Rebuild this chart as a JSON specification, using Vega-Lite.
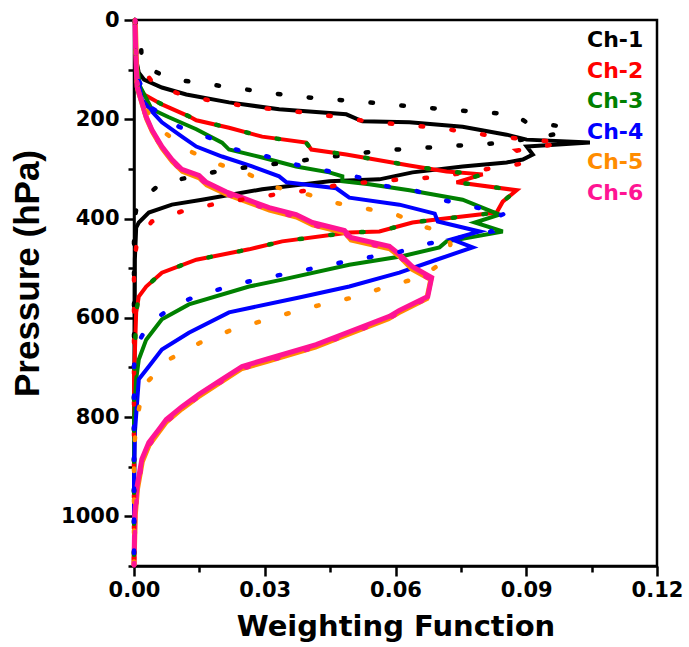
{
"$schema": "https://vega.github.io/schema/vega-lite/v6.json",
"width": 523, "height": 546,
"autosize": {"type": "none"},
"padding": {"left": 134, "top": 20, "right": 32, "bottom": 81},
"background": "white",
"config": {
  "view": {"stroke": "black", "strokeWidth": 2.5},
  "axis": {"grid": false, "domainColor": "black", "domainWidth": 2.5, "tickColor": "black", "tickWidth": 2.5,
    "labelColor": "black", "labelFont": "DejaVu Sans", "labelFontWeight": "bold", "labelFontSize": 21,
    "labelFlush": false, "labelOverlap": false, "labelBound": false,
    "titleColor": "black", "titleFontWeight": "bold"}
},
"datasets": {"profiles": [
{"c":"Ch-1","k":"s","p":0,"w":0.0002},{"c":"Ch-1","k":"s","p":80,"w":0.0005},{"c":"Ch-1","k":"s","p":106,"w":0.0011},{"c":"Ch-1","k":"s","p":120,"w":0.0023},{"c":"Ch-1","k":"s","p":136,"w":0.0064},{"c":"Ch-1","k":"s","p":150,"w":0.012},{"c":"Ch-1","k":"s","p":166,"w":0.0218},{"c":"Ch-1","k":"s","p":180,"w":0.0333},{"c":"Ch-1","k":"s","p":190,"w":0.0487},{"c":"Ch-1","k":"s","p":204,"w":0.0524},{"c":"Ch-1","k":"s","p":206,"w":0.0632},{"c":"Ch-1","k":"s","p":215,"w":0.0754},{"c":"Ch-1","k":"s","p":231,"w":0.0855},{"c":"Ch-1","k":"s","p":241,"w":0.0901},{"c":"Ch-1","k":"s","p":247,"w":0.1046},{"c":"Ch-1","k":"s","p":255,"w":0.0901},{"c":"Ch-1","k":"s","p":271,"w":0.0915},{"c":"Ch-1","k":"s","p":281,"w":0.0892},{"c":"Ch-1","k":"s","p":287,"w":0.0855},{"c":"Ch-1","k":"s","p":295,"w":0.0754},{"c":"Ch-1","k":"s","p":307,"w":0.0639},{"c":"Ch-1","k":"s","p":321,"w":0.0563},{"c":"Ch-1","k":"s","p":325,"w":0.0448},{"c":"Ch-1","k":"s","p":341,"w":0.0294},{"c":"Ch-1","k":"s","p":362,"w":0.0156},{"c":"Ch-1","k":"s","p":372,"w":0.0087},{"c":"Ch-1","k":"s","p":388,"w":0.0034},{"c":"Ch-1","k":"s","p":408,"w":0.0011},{"c":"Ch-1","k":"s","p":418,"w":0.0005},{"c":"Ch-1","k":"s","p":482,"w":0.0002},{"c":"Ch-1","k":"s","p":1100,"w":0},
{"c":"Ch-1","k":"d","p":0,"w":0.0002},{"c":"Ch-1","k":"d","p":45,"w":0.0016},{"c":"Ch-1","k":"d","p":90,"w":0.0018},{"c":"Ch-1","k":"d","p":118,"w":0.008},{"c":"Ch-1","k":"d","p":136,"w":0.0225},{"c":"Ch-1","k":"d","p":154,"w":0.0372},{"c":"Ch-1","k":"d","p":164,"w":0.0513},{"c":"Ch-1","k":"d","p":176,"w":0.066},{"c":"Ch-1","k":"d","p":186,"w":0.08},{"c":"Ch-1","k":"d","p":190,"w":0.0874},{"c":"Ch-1","k":"d","p":206,"w":0.09},{"c":"Ch-1","k":"d","p":213,"w":0.097},{"c":"Ch-1","k":"d","p":227,"w":0.0995},{"c":"Ch-1","k":"d","p":235,"w":0.0926},{"c":"Ch-1","k":"d","p":247,"w":0.0855},{"c":"Ch-1","k":"d","p":255,"w":0.0708},{"c":"Ch-1","k":"d","p":263,"w":0.0568},{"c":"Ch-1","k":"d","p":271,"w":0.0494},{"c":"Ch-1","k":"d","p":287,"w":0.0349},{"c":"Ch-1","k":"d","p":303,"w":0.0202},{"c":"Ch-1","k":"d","p":329,"w":0.0062},{"c":"Ch-1","k":"d","p":370,"w":0.0007},{"c":"Ch-1","k":"d","p":412,"w":0},{"c":"Ch-1","k":"d","p":1100,"w":0},
{"c":"Ch-2","k":"s","p":0,"w":0.0002},{"c":"Ch-2","k":"s","p":80,"w":0.0005},{"c":"Ch-2","k":"s","p":134,"w":0.0011},{"c":"Ch-2","k":"s","p":150,"w":0.0023},{"c":"Ch-2","k":"s","p":170,"w":0.0064},{"c":"Ch-2","k":"s","p":194,"w":0.0126},{"c":"Ch-2","k":"s","p":202,"w":0.0143},{"c":"Ch-2","k":"s","p":217,"w":0.0218},{"c":"Ch-2","k":"s","p":235,"w":0.0294},{"c":"Ch-2","k":"s","p":247,"w":0.0395},{"c":"Ch-2","k":"s","p":261,"w":0.0407},{"c":"Ch-2","k":"s","p":271,"w":0.0487},{"c":"Ch-2","k":"s","p":293,"w":0.0632},{"c":"Ch-2","k":"s","p":305,"w":0.0717},{"c":"Ch-2","k":"s","p":311,"w":0.08},{"c":"Ch-2","k":"s","p":327,"w":0.074},{"c":"Ch-2","k":"s","p":343,"w":0.0878},{"c":"Ch-2","k":"s","p":366,"w":0.0846},{"c":"Ch-2","k":"s","p":388,"w":0.0832},{"c":"Ch-2","k":"s","p":392,"w":0.0793},{"c":"Ch-2","k":"s","p":402,"w":0.0694},{"c":"Ch-2","k":"s","p":408,"w":0.0639},{"c":"Ch-2","k":"s","p":426,"w":0.0563},{"c":"Ch-2","k":"s","p":428,"w":0.0494},{"c":"Ch-2","k":"s","p":446,"w":0.034},{"c":"Ch-2","k":"s","p":462,"w":0.0264},{"c":"Ch-2","k":"s","p":483,"w":0.0143},{"c":"Ch-2","k":"s","p":509,"w":0.0064},{"c":"Ch-2","k":"s","p":537,"w":0.0028},{"c":"Ch-2","k":"s","p":557,"w":0.0011},{"c":"Ch-2","k":"s","p":589,"w":0.0005},{"c":"Ch-2","k":"s","p":724,"w":0},{"c":"Ch-2","k":"s","p":1100,"w":0},
{"c":"Ch-2","k":"d","p":0,"w":0.0002},{"c":"Ch-2","k":"d","p":80,"w":0.0005},{"c":"Ch-2","k":"d","p":130,"w":0.0046},{"c":"Ch-2","k":"d","p":154,"w":0.012},{"c":"Ch-2","k":"d","p":174,"w":0.026},{"c":"Ch-2","k":"d","p":188,"w":0.0407},{"c":"Ch-2","k":"d","p":206,"w":0.0552},{"c":"Ch-2","k":"d","p":217,"w":0.0694},{"c":"Ch-2","k":"d","p":235,"w":0.0834},{"c":"Ch-2","k":"d","p":241,"w":0.0913},{"c":"Ch-2","k":"d","p":247,"w":0.0982},{"c":"Ch-2","k":"d","p":255,"w":0.0936},{"c":"Ch-2","k":"d","p":263,"w":0.0878},{"c":"Ch-2","k":"d","p":287,"w":0.0908},{"c":"Ch-2","k":"d","p":297,"w":0.0834},{"c":"Ch-2","k":"d","p":317,"w":0.069},{"c":"Ch-2","k":"d","p":321,"w":0.0616},{"c":"Ch-2","k":"d","p":331,"w":0.0478},{"c":"Ch-2","k":"d","p":343,"w":0.0402},{"c":"Ch-2","k":"d","p":351,"w":0.0329},{"c":"Ch-2","k":"d","p":370,"w":0.0189},{"c":"Ch-2","k":"d","p":384,"w":0.0115},{"c":"Ch-2","k":"d","p":406,"w":0.0041},{"c":"Ch-2","k":"d","p":446,"w":0.0007},{"c":"Ch-2","k":"d","p":489,"w":0},{"c":"Ch-2","k":"d","p":1100,"w":0},
{"c":"Ch-3","k":"s","p":0,"w":0.0002},{"c":"Ch-3","k":"s","p":80,"w":0.0005},{"c":"Ch-3","k":"s","p":134,"w":0.0014},{"c":"Ch-3","k":"s","p":180,"w":0.0041},{"c":"Ch-3","k":"s","p":196,"w":0.008},{"c":"Ch-3","k":"s","p":220,"w":0.0143},{"c":"Ch-3","k":"s","p":247,"w":0.0202},{"c":"Ch-3","k":"s","p":261,"w":0.0218},{"c":"Ch-3","k":"s","p":277,"w":0.0294},{"c":"Ch-3","k":"s","p":295,"w":0.0372},{"c":"Ch-3","k":"s","p":307,"w":0.0448},{"c":"Ch-3","k":"s","p":315,"w":0.0478},{"c":"Ch-3","k":"s","p":325,"w":0.0478},{"c":"Ch-3","k":"s","p":331,"w":0.054},{"c":"Ch-3","k":"s","p":343,"w":0.0632},{"c":"Ch-3","k":"s","p":362,"w":0.0754},{"c":"Ch-3","k":"s","p":384,"w":0.0816},{"c":"Ch-3","k":"s","p":392,"w":0.0839},{"c":"Ch-3","k":"s","p":408,"w":0.0782},{"c":"Ch-3","k":"s","p":426,"w":0.0846},{"c":"Ch-3","k":"s","p":442,"w":0.0747},{"c":"Ch-3","k":"s","p":446,"w":0.0717},{"c":"Ch-3","k":"s","p":458,"w":0.0701},{"c":"Ch-3","k":"s","p":476,"w":0.0615},{"c":"Ch-3","k":"s","p":493,"w":0.0494},{"c":"Ch-3","k":"s","p":523,"w":0.034},{"c":"Ch-3","k":"s","p":537,"w":0.0264},{"c":"Ch-3","k":"s","p":573,"w":0.0126},{"c":"Ch-3","k":"s","p":603,"w":0.0064},{"c":"Ch-3","k":"s","p":644,"w":0.0028},{"c":"Ch-3","k":"s","p":684,"w":0.0011},{"c":"Ch-3","k":"s","p":724,"w":0.0005},{"c":"Ch-3","k":"s","p":805,"w":0},{"c":"Ch-3","k":"s","p":1100,"w":0},
{"c":"Ch-3","k":"d","p":0,"w":0.0002},{"c":"Ch-3","k":"d","p":80,"w":0.0005},{"c":"Ch-3","k":"d","p":134,"w":0.0011},{"c":"Ch-3","k":"d","p":150,"w":0.0023},{"c":"Ch-3","k":"d","p":170,"w":0.0064},{"c":"Ch-3","k":"d","p":194,"w":0.0126},{"c":"Ch-3","k":"d","p":202,"w":0.0143},{"c":"Ch-3","k":"d","p":217,"w":0.0218},{"c":"Ch-3","k":"d","p":235,"w":0.0294},{"c":"Ch-3","k":"d","p":247,"w":0.0395},{"c":"Ch-3","k":"d","p":261,"w":0.0407},{"c":"Ch-3","k":"d","p":271,"w":0.0487},{"c":"Ch-3","k":"d","p":293,"w":0.0632},{"c":"Ch-3","k":"d","p":305,"w":0.0717},{"c":"Ch-3","k":"d","p":311,"w":0.08},{"c":"Ch-3","k":"d","p":327,"w":0.074},{"c":"Ch-3","k":"d","p":343,"w":0.0878},{"c":"Ch-3","k":"d","p":366,"w":0.0846},{"c":"Ch-3","k":"d","p":388,"w":0.0832},{"c":"Ch-3","k":"d","p":392,"w":0.0793},{"c":"Ch-3","k":"d","p":402,"w":0.0694},{"c":"Ch-3","k":"d","p":408,"w":0.0639},{"c":"Ch-3","k":"d","p":426,"w":0.0563},{"c":"Ch-3","k":"d","p":428,"w":0.0494},{"c":"Ch-3","k":"d","p":446,"w":0.034},{"c":"Ch-3","k":"d","p":462,"w":0.0264},{"c":"Ch-3","k":"d","p":483,"w":0.0143},{"c":"Ch-3","k":"d","p":509,"w":0.0064},{"c":"Ch-3","k":"d","p":537,"w":0.0028},{"c":"Ch-3","k":"d","p":557,"w":0.0011},{"c":"Ch-3","k":"d","p":589,"w":0.0005},{"c":"Ch-3","k":"d","p":724,"w":0},{"c":"Ch-3","k":"d","p":1100,"w":0},
{"c":"Ch-4","k":"s","p":0,"w":0.0002},{"c":"Ch-4","k":"s","p":100,"w":0.0005},{"c":"Ch-4","k":"s","p":160,"w":0.0018},{"c":"Ch-4","k":"s","p":184,"w":0.0041},{"c":"Ch-4","k":"s","p":206,"w":0.0064},{"c":"Ch-4","k":"s","p":235,"w":0.011},{"c":"Ch-4","k":"s","p":255,"w":0.0143},{"c":"Ch-4","k":"s","p":275,"w":0.0202},{"c":"Ch-4","k":"s","p":295,"w":0.0271},{"c":"Ch-4","k":"s","p":315,"w":0.0333},{"c":"Ch-4","k":"s","p":327,"w":0.035},{"c":"Ch-4","k":"s","p":339,"w":0.0464},{"c":"Ch-4","k":"s","p":358,"w":0.0494},{"c":"Ch-4","k":"s","p":372,"w":0.0609},{"c":"Ch-4","k":"s","p":390,"w":0.069},{"c":"Ch-4","k":"s","p":406,"w":0.0697},{"c":"Ch-4","k":"s","p":426,"w":0.0793},{"c":"Ch-4","k":"s","p":442,"w":0.0729},{"c":"Ch-4","k":"s","p":458,"w":0.0777},{"c":"Ch-4","k":"s","p":483,"w":0.0694},{"c":"Ch-4","k":"s","p":509,"w":0.0609},{"c":"Ch-4","k":"s","p":537,"w":0.0494},{"c":"Ch-4","k":"s","p":559,"w":0.0379},{"c":"Ch-4","k":"s","p":589,"w":0.0218},{"c":"Ch-4","k":"s","p":630,"w":0.0126},{"c":"Ch-4","k":"s","p":664,"w":0.0064},{"c":"Ch-4","k":"s","p":698,"w":0.0034},{"c":"Ch-4","k":"s","p":724,"w":0.0011},{"c":"Ch-4","k":"s","p":831,"w":0.0002},{"c":"Ch-4","k":"s","p":926,"w":0},{"c":"Ch-4","k":"s","p":1100,"w":0},
{"c":"Ch-4","k":"d","p":0,"w":0.0002},{"c":"Ch-4","k":"d","p":110,"w":0.0005},{"c":"Ch-4","k":"d","p":176,"w":0.0039},{"c":"Ch-4","k":"d","p":215,"w":0.0103},{"c":"Ch-4","k":"d","p":237,"w":0.0172},{"c":"Ch-4","k":"d","p":261,"w":0.0234},{"c":"Ch-4","k":"d","p":275,"w":0.0306},{"c":"Ch-4","k":"d","p":293,"w":0.0379},{"c":"Ch-4","k":"d","p":305,"w":0.0448},{"c":"Ch-4","k":"d","p":317,"w":0.0517},{"c":"Ch-4","k":"d","p":333,"w":0.0563},{"c":"Ch-4","k":"d","p":341,"w":0.0637},{"c":"Ch-4","k":"d","p":362,"w":0.0706},{"c":"Ch-4","k":"d","p":376,"w":0.0777},{"c":"Ch-4","k":"d","p":390,"w":0.0851},{"c":"Ch-4","k":"d","p":406,"w":0.0805},{"c":"Ch-4","k":"d","p":426,"w":0.0821},{"c":"Ch-4","k":"d","p":450,"w":0.0678},{"c":"Ch-4","k":"d","p":468,"w":0.0605},{"c":"Ch-4","k":"d","p":479,"w":0.0533},{"c":"Ch-4","k":"d","p":491,"w":0.046},{"c":"Ch-4","k":"d","p":505,"w":0.0386},{"c":"Ch-4","k":"d","p":517,"w":0.0315},{"c":"Ch-4","k":"d","p":531,"w":0.0241},{"c":"Ch-4","k":"d","p":549,"w":0.017},{"c":"Ch-4","k":"d","p":571,"w":0.0099},{"c":"Ch-4","k":"d","p":612,"w":0.0034},{"c":"Ch-4","k":"d","p":654,"w":0.0007},{"c":"Ch-4","k":"d","p":698,"w":0},{"c":"Ch-4","k":"d","p":1100,"w":0},
{"c":"Ch-5","k":"s","p":0,"w":0.0003},{"c":"Ch-5","k":"s","p":98,"w":0.0006},{"c":"Ch-5","k":"s","p":138,"w":0.0008},{"c":"Ch-5","k":"s","p":164,"w":0.0017},{"c":"Ch-5","k":"s","p":199,"w":0.0029},{"c":"Ch-5","k":"s","p":225,"w":0.0042},{"c":"Ch-5","k":"s","p":259,"w":0.0065},{"c":"Ch-5","k":"s","p":285,"w":0.0088},{"c":"Ch-5","k":"s","p":305,"w":0.0111},{"c":"Ch-5","k":"s","p":318,"w":0.015},{"c":"Ch-5","k":"s","p":332,"w":0.0167},{"c":"Ch-5","k":"s","p":351,"w":0.0212},{"c":"Ch-5","k":"s","p":363,"w":0.0249},{"c":"Ch-5","k":"s","p":383,"w":0.0311},{"c":"Ch-5","k":"s","p":397,"w":0.0373},{"c":"Ch-5","k":"s","p":413,"w":0.041},{"c":"Ch-5","k":"s","p":429,"w":0.0484},{"c":"Ch-5","k":"s","p":443,"w":0.0498},{"c":"Ch-5","k":"s","p":461,"w":0.0587},{"c":"Ch-5","k":"s","p":477,"w":0.061},{"c":"Ch-5","k":"s","p":502,"w":0.0638},{"c":"Ch-5","k":"s","p":523,"w":0.0681},{"c":"Ch-5","k":"s","p":561,"w":0.0672},{"c":"Ch-5","k":"s","p":590,"w":0.0607},{"c":"Ch-5","k":"s","p":602,"w":0.0584},{"c":"Ch-5","k":"s","p":633,"w":0.0492},{"c":"Ch-5","k":"s","p":659,"w":0.0416},{"c":"Ch-5","k":"s","p":687,"w":0.0308},{"c":"Ch-5","k":"s","p":703,"w":0.0246},{"c":"Ch-5","k":"s","p":729,"w":0.02},{"c":"Ch-5","k":"s","p":759,"w":0.0148},{"c":"Ch-5","k":"s","p":784,"w":0.0109},{"c":"Ch-5","k":"s","p":810,"w":0.0074},{"c":"Ch-5","k":"s","p":830,"w":0.0057},{"c":"Ch-5","k":"s","p":856,"w":0.0035},{"c":"Ch-5","k":"s","p":890,"w":0.0019},{"c":"Ch-5","k":"s","p":945,"w":0.0008},{"c":"Ch-5","k":"s","p":997,"w":0.0003},{"c":"Ch-5","k":"s","p":1100,"w":0},
{"c":"Ch-5","k":"d","p":0,"w":0.0002},{"c":"Ch-5","k":"d","p":120,"w":0.0005},{"c":"Ch-5","k":"d","p":176,"w":0.0023},{"c":"Ch-5","k":"d","p":221,"w":0.0062},{"c":"Ch-5","k":"d","p":261,"w":0.012},{"c":"Ch-5","k":"d","p":289,"w":0.0189},{"c":"Ch-5","k":"d","p":309,"w":0.026},{"c":"Ch-5","k":"d","p":335,"w":0.0315},{"c":"Ch-5","k":"d","p":348,"w":0.0386},{"c":"Ch-5","k":"d","p":368,"w":0.046},{"c":"Ch-5","k":"d","p":380,"w":0.0533},{"c":"Ch-5","k":"d","p":392,"w":0.0602},{"c":"Ch-5","k":"d","p":416,"w":0.0662},{"c":"Ch-5","k":"d","p":428,"w":0.0717},{"c":"Ch-5","k":"d","p":452,"w":0.0726},{"c":"Ch-5","k":"d","p":483,"w":0.0717},{"c":"Ch-5","k":"d","p":519,"w":0.0657},{"c":"Ch-5","k":"d","p":535,"w":0.0586},{"c":"Ch-5","k":"d","p":557,"w":0.0513},{"c":"Ch-5","k":"d","p":571,"w":0.0441},{"c":"Ch-5","k":"d","p":587,"w":0.037},{"c":"Ch-5","k":"d","p":605,"w":0.0299},{"c":"Ch-5","k":"d","p":624,"w":0.0225},{"c":"Ch-5","k":"d","p":650,"w":0.0152},{"c":"Ch-5","k":"d","p":684,"w":0.008},{"c":"Ch-5","k":"d","p":726,"w":0.0034},{"c":"Ch-5","k":"d","p":771,"w":0.0014},{"c":"Ch-5","k":"d","p":815,"w":0.0005},{"c":"Ch-5","k":"d","p":865,"w":0},{"c":"Ch-5","k":"d","p":1100,"w":0},
{"c":"Ch-6","k":"s","p":0,"w":0.0002},{"c":"Ch-6","k":"s","p":94,"w":0.0005},{"c":"Ch-6","k":"s","p":134,"w":0.0007},{"c":"Ch-6","k":"s","p":160,"w":0.0016},{"c":"Ch-6","k":"s","p":195,"w":0.0028},{"c":"Ch-6","k":"s","p":221,"w":0.0041},{"c":"Ch-6","k":"s","p":255,"w":0.0064},{"c":"Ch-6","k":"s","p":281,"w":0.0087},{"c":"Ch-6","k":"s","p":301,"w":0.011},{"c":"Ch-6","k":"s","p":313,"w":0.0149},{"c":"Ch-6","k":"s","p":327,"w":0.0166},{"c":"Ch-6","k":"s","p":346,"w":0.0211},{"c":"Ch-6","k":"s","p":358,"w":0.0248},{"c":"Ch-6","k":"s","p":378,"w":0.031},{"c":"Ch-6","k":"s","p":392,"w":0.0372},{"c":"Ch-6","k":"s","p":408,"w":0.0409},{"c":"Ch-6","k":"s","p":424,"w":0.0483},{"c":"Ch-6","k":"s","p":438,"w":0.0497},{"c":"Ch-6","k":"s","p":456,"w":0.0586},{"c":"Ch-6","k":"s","p":472,"w":0.0609},{"c":"Ch-6","k":"s","p":497,"w":0.0639},{"c":"Ch-6","k":"s","p":519,"w":0.0683},{"c":"Ch-6","k":"s","p":557,"w":0.0674},{"c":"Ch-6","k":"s","p":585,"w":0.0609},{"c":"Ch-6","k":"s","p":597,"w":0.0586},{"c":"Ch-6","k":"s","p":628,"w":0.0494},{"c":"Ch-6","k":"s","p":654,"w":0.0418},{"c":"Ch-6","k":"s","p":682,"w":0.031},{"c":"Ch-6","k":"s","p":698,"w":0.0248},{"c":"Ch-6","k":"s","p":724,"w":0.0202},{"c":"Ch-6","k":"s","p":754,"w":0.0149},{"c":"Ch-6","k":"s","p":779,"w":0.011},{"c":"Ch-6","k":"s","p":805,"w":0.0074},{"c":"Ch-6","k":"s","p":825,"w":0.0057},{"c":"Ch-6","k":"s","p":851,"w":0.0034},{"c":"Ch-6","k":"s","p":885,"w":0.0018},{"c":"Ch-6","k":"s","p":940,"w":0.0007},{"c":"Ch-6","k":"s","p":992,"w":0.0002},{"c":"Ch-6","k":"s","p":1100,"w":0},
{"c":"Ch-6","k":"d","p":0,"w":0.0003},{"c":"Ch-6","k":"d","p":98,"w":0.0006},{"c":"Ch-6","k":"d","p":138,"w":0.0008},{"c":"Ch-6","k":"d","p":164,"w":0.0017},{"c":"Ch-6","k":"d","p":199,"w":0.0029},{"c":"Ch-6","k":"d","p":225,"w":0.0042},{"c":"Ch-6","k":"d","p":259,"w":0.0065},{"c":"Ch-6","k":"d","p":285,"w":0.0088},{"c":"Ch-6","k":"d","p":305,"w":0.0111},{"c":"Ch-6","k":"d","p":318,"w":0.015},{"c":"Ch-6","k":"d","p":332,"w":0.0167},{"c":"Ch-6","k":"d","p":351,"w":0.0212},{"c":"Ch-6","k":"d","p":363,"w":0.0249},{"c":"Ch-6","k":"d","p":383,"w":0.0311},{"c":"Ch-6","k":"d","p":397,"w":0.0373},{"c":"Ch-6","k":"d","p":413,"w":0.041},{"c":"Ch-6","k":"d","p":429,"w":0.0484},{"c":"Ch-6","k":"d","p":443,"w":0.0498},{"c":"Ch-6","k":"d","p":461,"w":0.0587},{"c":"Ch-6","k":"d","p":477,"w":0.061},{"c":"Ch-6","k":"d","p":502,"w":0.0638},{"c":"Ch-6","k":"d","p":523,"w":0.0681},{"c":"Ch-6","k":"d","p":561,"w":0.0672},{"c":"Ch-6","k":"d","p":590,"w":0.0607},{"c":"Ch-6","k":"d","p":602,"w":0.0584},{"c":"Ch-6","k":"d","p":633,"w":0.0492},{"c":"Ch-6","k":"d","p":659,"w":0.0416},{"c":"Ch-6","k":"d","p":687,"w":0.0308},{"c":"Ch-6","k":"d","p":703,"w":0.0246},{"c":"Ch-6","k":"d","p":729,"w":0.02},{"c":"Ch-6","k":"d","p":759,"w":0.0148},{"c":"Ch-6","k":"d","p":784,"w":0.0109},{"c":"Ch-6","k":"d","p":810,"w":0.0074},{"c":"Ch-6","k":"d","p":830,"w":0.0057},{"c":"Ch-6","k":"d","p":856,"w":0.0035},{"c":"Ch-6","k":"d","p":890,"w":0.0019},{"c":"Ch-6","k":"d","p":945,"w":0.0008},{"c":"Ch-6","k":"d","p":997,"w":0.0003},{"c":"Ch-6","k":"d","p":1100,"w":0}
]},
"data": {"name": "profiles"},
"encoding": {
  "x": {"field": "w", "type": "quantitative", "scale": {"domain": [0, 0.12], "nice": false, "zero": false},
    "axis": {"values": [0, 0.015, 0.03, 0.045, 0.06, 0.075, 0.09, 0.105, 0.12],
      "labelExpr": "round(datum.value*1000) % 30 == 0 ? format(datum.value, '.2f') : ''",
      "tickSize": {"condition": {"test": "round(datum.value*1000) % 30 == 0", "value": 10}, "value": 6},
      "labelPadding": 3,
      "title": "Weighting Function", "titleFont": "DejaVu Sans", "titleFontSize": 29, "titlePadding": 12}},
  "y": {"field": "p", "type": "quantitative", "scale": {"domain": [0, 1100], "reverse": true, "nice": false, "zero": false},
    "axis": {"values": [0, 100, 200, 300, 400, 500, 600, 700, 800, 900, 1000, 1100],
      "labelExpr": "datum.value % 200 == 0 ? format(datum.value, 'd') : ''",
      "tickSize": {"condition": {"test": "datum.value % 200 == 0", "value": 10}, "value": 6},
      "labelPadding": 5,
      "title": "Pressure (hPa)", "titleFont": "Liberation Sans", "titleFontSize": 35,
      "titleX": -89, "titleY": 253, "titleAngle": -90, "titleAlign": "center", "titleBaseline": "bottom"}},
  "order": {"field": "p", "type": "quantitative"},
  "color": {"field": "c", "type": "nominal",
    "scale": {"domain": ["Ch-1", "Ch-2", "Ch-3", "Ch-4", "Ch-5", "Ch-6"], "range": ["#000000", "#ff0000", "#008000", "#0000ff", "#ff8c00", "#ff1493"]},
    "legend": {"orient": "none", "legendX": 431, "legendY": 9, "title": null, "padding": 0,
      "symbolSize": 0, "symbolStrokeWidth": 0, "symbolOpacity": 0, "labelOffset": 0, "rowPadding": 8.5,
      "labelFont": "DejaVu Sans", "labelFontSize": 22, "labelFontWeight": "bold", "labelLimit": 0,
      "encode": {"labels": {"update": {"fill": {"scale": "color", "field": "value"}}}}}}
},
"layer": [
  {"transform": [{"filter": "datum.k == 's' && datum.c != 'Ch-5' && datum.c != 'Ch-6'"}], "mark": {"type": "line", "strokeWidth": 4}},
  {"transform": [{"filter": "datum.k == 's' && datum.c == 'Ch-5'"}], "mark": {"type": "line", "strokeWidth": 5}},
  {"transform": [{"filter": "datum.k == 's' && datum.c == 'Ch-6'"}], "mark": {"type": "line", "strokeWidth": 5}},
  {"transform": [{"filter": "datum.k == 'd'"}], "mark": {"type": "line", "strokeWidth": 4.5, "strokeDash": [2.5, 28.5], "strokeCap": "round"}}
]
}
